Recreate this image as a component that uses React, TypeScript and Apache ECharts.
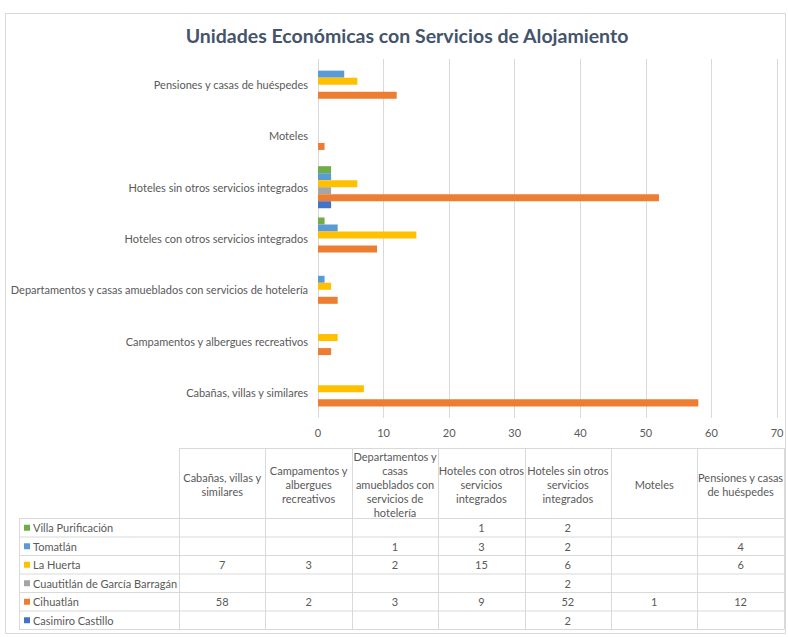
import React, { useEffect, useRef } from "react";
import * as echarts from "echarts";

const title = "Unidades Económicas con Servicios de Alojamiento";

const categories = [
  "Cabañas, villas y similares",
  "Campamentos y albergues recreativos",
  "Departamentos y casas amueblados con servicios de hotelería",
  "Hoteles con otros servicios integrados",
  "Hoteles sin otros servicios integrados",
  "Moteles",
  "Pensiones y casas de huéspedes",
];

const headerLabels = [
  "Cabañas, villas y\nsimilares",
  "Campamentos y\nalbergues\nrecreativos",
  "Departamentos y\ncasas\namueblados con\nservicios de\nhotelería",
  "Hoteles con otros\nservicios\nintegrados",
  "Hoteles sin otros\nservicios\nintegrados",
  "Moteles",
  "Pensiones y casas\nde huéspedes",
];

const xTicks = [0, 10, 20, 30, 40, 50, 60, 70];

// listed in table order (top to bottom)
const seriesNames = [
  "Villa Purificación",
  "Tomatlán",
  "La Huerta",
  "Cuautitlán de García Barragán",
  "Cihuatlán",
  "Casimiro Castillo",
];

const villaPurificacion = [null, null, null, 1, 2, null, null];
const tomatlan = [null, null, 1, 3, 2, null, 4];
const laHuerta = [7, 3, 2, 15, 6, null, 6];
const cuautitlan = [null, null, null, null, 2, null, null];
const cihuatlan = [58, 2, 3, 9, 52, 1, 12];
const casimiroCastillo = [null, null, null, null, 2, null, null];

const seriesValues = [villaPurificacion, tomatlan, laHuerta, cuautitlan, cihuatlan, casimiroCastillo];
const seriesColors = ["#70AD47", "#5B9BD5", "#FFC000", "#A5A5A5", "#ED7D31", "#4472C4"];

const FONT = "Lato, 'Open Sans', sans-serif";
const TXT = "#595959";
const LINE = "#d9d9d9";

export default function App() {
  const ref = useRef<HTMLDivElement>(null);

  useEffect(() => {
    if (!ref.current) return;
    const chart = echarts.init(ref.current, undefined, { renderer: "svg" });

    // table geometry
    const colX = [179, 265.4, 351.8, 438.2, 524.6, 611, 697.4, 783.8];
    const headerTop = 448;
    const rowY = [518, 536.5, 555, 573.5, 592, 610.5, 629];
    const tableLeft = 19;

    const graphics: any[] = [];
    graphics.push({
      type: "rect",
      shape: { x: 5.5, y: 13.5, width: 780, height: 620 },
      style: { fill: "none", stroke: LINE, lineWidth: 1 },
      silent: true,
    });
    graphics.push({
      type: "line",
      shape: { x1: colX[0], y1: headerTop + 0.5, x2: colX[colX.length - 1], y2: headerTop + 0.5 },
      style: { stroke: LINE, lineWidth: 1 },
    });
    rowY.forEach((y) => {
      graphics.push({
        type: "line",
        shape: { x1: tableLeft, y1: y + 0.5, x2: colX[colX.length - 1], y2: y + 0.5 },
        style: { stroke: LINE, lineWidth: 1 },
      });
    });
    colX.forEach((x) => {
      graphics.push({
        type: "line",
        shape: { x1: Math.round(x) + 0.5, y1: headerTop, x2: Math.round(x) + 0.5, y2: rowY[rowY.length - 1] + 0.5 },
        style: { stroke: LINE, lineWidth: 1 },
      });
    });
    graphics.push({
      type: "line",
      shape: { x1: tableLeft + 0.5, y1: rowY[0], x2: tableLeft + 0.5, y2: rowY[rowY.length - 1] + 0.5 },
      style: { stroke: LINE, lineWidth: 1 },
    });
    headerLabels.forEach((h, i) => {
      graphics.push({
        type: "text",
        x: (colX[i] + colX[i + 1]) / 2,
        y: (headerTop + rowY[0]) / 2 + 1,
        style: {
          text: h,
          fill: TXT,
          fontSize: 11,
          fontFamily: FONT,
          lineHeight: 14,
          align: "center",
          verticalAlign: "middle",
        },
      });
    });
    seriesNames.forEach((name, r) => {
      const yc = (rowY[r] + rowY[r + 1]) / 2 + 0.5;
      graphics.push({
        type: "rect",
        shape: { x: 24, y: yc - 3, width: 6, height: 6 },
        style: { fill: seriesColors[r] },
      });
      graphics.push({
        type: "text",
        x: 33,
        y: yc,
        style: {
          text: name,
          fill: TXT,
          fontSize: 11,
          fontFamily: FONT,
          align: "left",
          verticalAlign: "middle",
        },
      });
      seriesValues[r].forEach((v, c) => {
        if (v === null || v === undefined) return;
        graphics.push({
          type: "text",
          x: (colX[c] + colX[c + 1]) / 2,
          y: yc,
          style: {
            text: String(v),
            fill: TXT,
            fontSize: 11,
            fontFamily: FONT,
            align: "center",
            verticalAlign: "middle",
          },
        });
      });
    });

    chart.setOption({
      animation: false,
      backgroundColor: "#ffffff",
      title: {
        text: title,
        left: 402,
        top: 20,
        textAlign: "center",
        textStyle: { fontSize: 19.5, fontWeight: "bold", color: "#44546A", fontFamily: FONT },
      },
      grid: { left: 318, right: 11, top: 59, bottom: 637 - 418, containLabel: false },
      xAxis: {
        type: "value",
        min: xTicks[0],
        max: xTicks[xTicks.length - 1],
        interval: 10,
        axisLine: { show: false },
        axisTick: { show: false },
        splitLine: { show: true, lineStyle: { color: LINE, width: 1 } },
        axisLabel: { color: TXT, fontSize: 11, fontFamily: FONT, margin: 9 },
      },
      yAxis: {
        type: "category",
        data: categories,
        axisLine: { show: false },
        axisTick: { show: false },
        axisLabel: { color: TXT, fontSize: 11, fontFamily: FONT, margin: 10 },
      },
      series: seriesNames.map((name, i) => ({
        name,
        type: "bar",
        data: seriesValues[i],
        itemStyle: { color: seriesColors[i] },
        barGap: "0%",
        barCategoryGap: "18%",
      })),
      graphic: graphics,
    });

    return () => chart.dispose();
  }, []);

  return (
    <div
      ref={ref}
      style={{ position: "fixed", left: 0, top: 0, width: 788, height: 637, background: "#fff" }}
    />
  );
}
